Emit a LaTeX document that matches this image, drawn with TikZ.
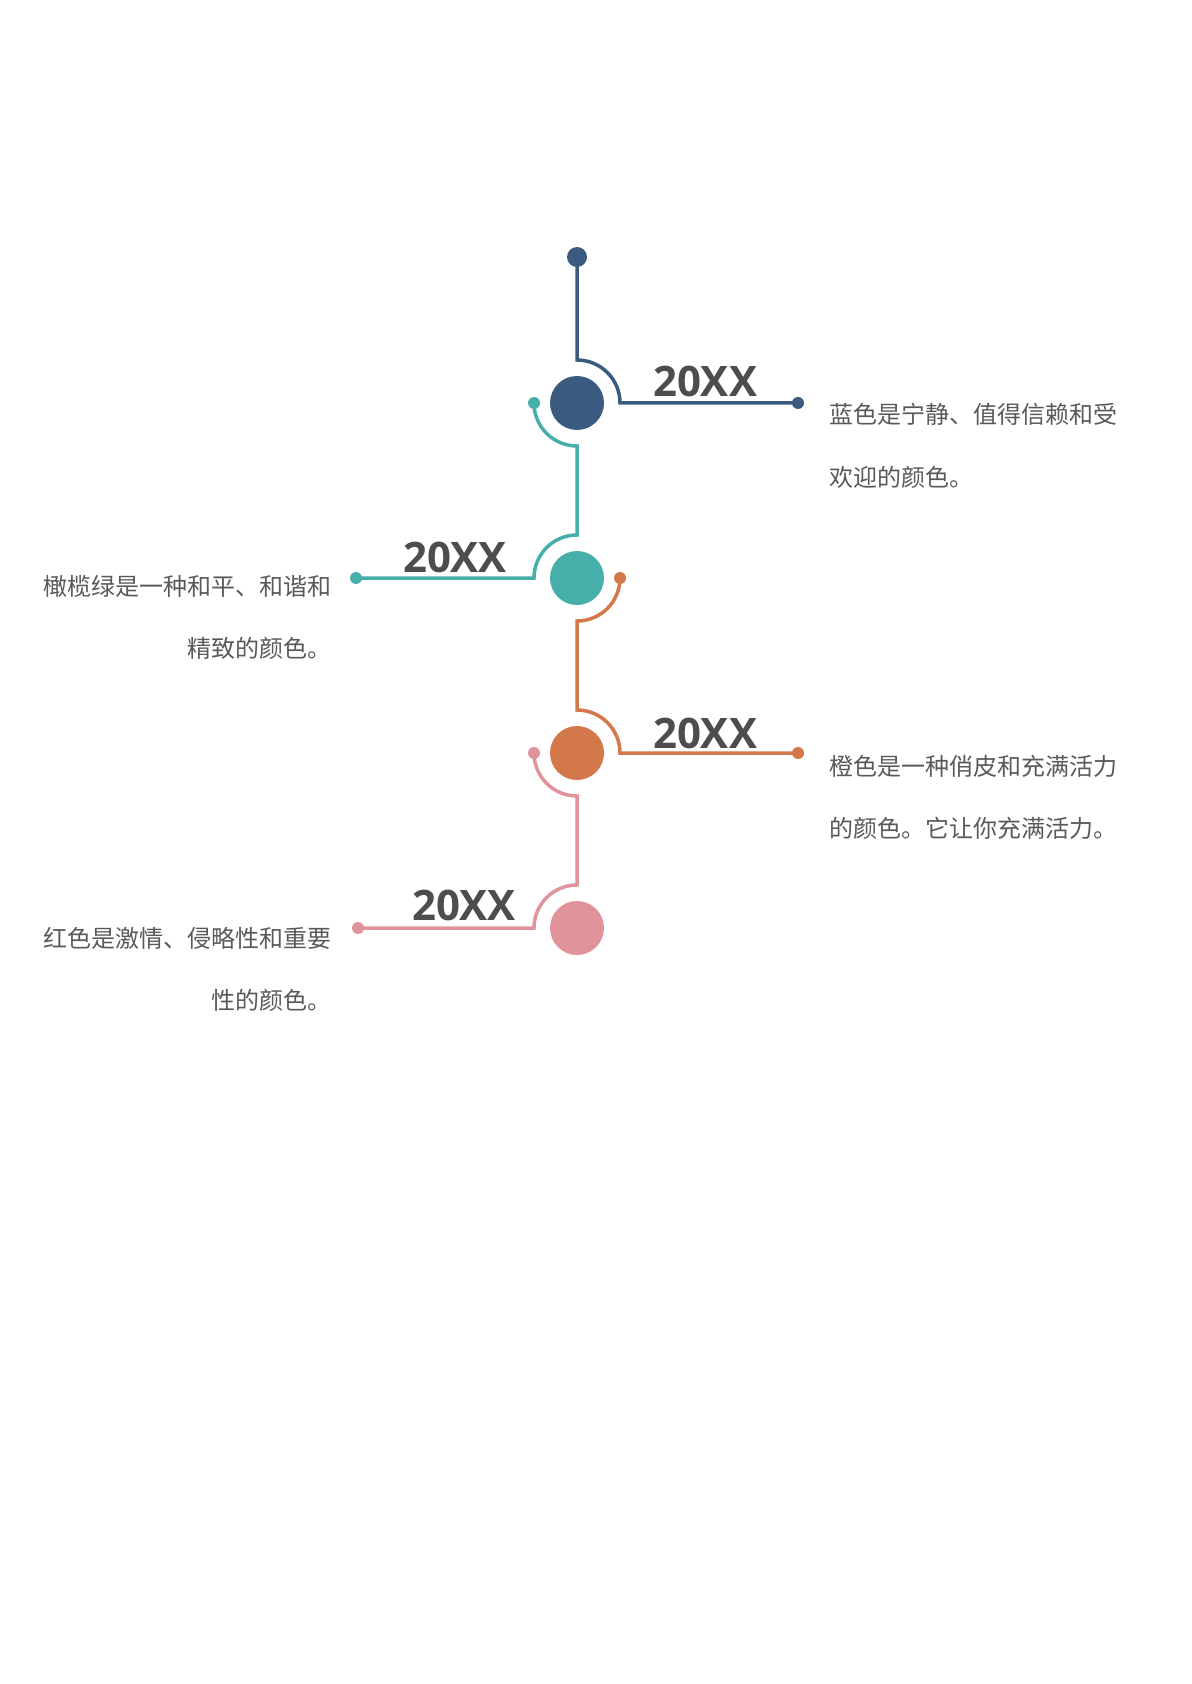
\documentclass[tikz,border=0pt]{standalone}
\usepackage{fontspec}
\setmainfont{Open Sans}
\newfontfamily\cjk{Noto Sans CJK SC}
\usetikzlibrary{positioning}
\definecolor{cblue}{HTML}{3A5A80}
\definecolor{cteal}{HTML}{46AFAA}
\definecolor{corange}{HTML}{D3784A}
\definecolor{cpink}{HTML}{E0939A}
\definecolor{ctext}{HTML}{595959}
\definecolor{cyear}{HTML}{4D4D4D}

\begin{document}
\begin{tikzpicture}[x=0.5pt,y=0.5pt,
  bigdot/.style={circle,inner sep=0pt,minimum size=27pt},
  smalldot/.style={circle,inner sep=0pt,minimum size=6pt},
  link/.style={line width=1.75pt},
  year/.style={font=\bfseries\fontsize{21}{21}\selectfont,text=cyear,inner sep=0pt,anchor=base},
  desc/.style={font=\cjk\fontsize{12}{12}\selectfont,text=ctext,inner sep=0pt}]
  \useasboundingbox (0,0) rectangle (1191,-1684);

  \node[bigdot,fill=cblue] (c1) at (577,-403) {};
  \node[bigdot,fill=cteal] (c2) at (577,-578) {};
  \node[bigdot,fill=corange] (c3) at (577,-753) {};
  \node[bigdot,fill=cpink] (c4) at (577,-928) {};

  \node[smalldot,fill=cblue,minimum size=10pt] (top) at (577,-257) {};
  \node[smalldot,fill=cblue] (e1) at (798,-403) {};
  \node[smalldot,fill=cteal] (s1) at (534,-403) {};
  \node[smalldot,fill=cteal] (e2) at (356,-578) {};
  \node[smalldot,fill=corange] (s2) at (620,-578) {};
  \node[smalldot,fill=corange] (e3) at (798,-753) {};
  \node[smalldot,fill=cpink] (s3) at (534,-753) {};
  \node[smalldot,fill=cpink] (e4) at (358,-928) {};

  \draw[link,cblue] (top.center) -- ([yshift=21.5pt]c1.center) arc[start angle=90,end angle=0,radius=21.5pt] -- (e1.center);
  \draw[link,cteal] (s1.center) arc[start angle=180,end angle=270,radius=21.5pt] -- ([yshift=21.5pt]c2.center) arc[start angle=90,end angle=180,radius=21.5pt] -- (e2.center);
  \draw[link,corange] (s2.center) arc[start angle=0,end angle=-90,radius=21.5pt] -- ([yshift=21.5pt]c3.center) arc[start angle=90,end angle=0,radius=21.5pt] -- (e3.center);
  \draw[link,cpink] (s3.center) arc[start angle=180,end angle=270,radius=21.5pt] -- ([yshift=21.5pt]c4.center) arc[start angle=90,end angle=180,radius=21.5pt] -- (e4.center);

  \node[year] (y1) at (705,-397) {20XX};
  \node[year] (y2) at (455,-572) {20XX};
  \node[year] (y3) at (705,-748) {20XX};
  \node[year] (y4) at (464,-920) {20XX};

  \node[desc,anchor=base west] (t1) at (829,-423) {蓝色是宁静、值得信赖和受};
  \node[desc,anchor=base west] (t1b) at ([yshift=-31.5pt]t1.base west) {欢迎的颜色。};
  \node[desc,anchor=base east] (t2) at (332,-595) {橄榄绿是一种和平、和谐和};
  \node[desc,anchor=base east] (t2b) at ([yshift=-31pt]t2.base east) {精致的颜色。};
  \node[desc,anchor=base west] (t3) at (829,-775) {橙色是一种俏皮和充满活力};
  \node[desc,anchor=base west] (t3b) at ([yshift=-31pt]t3.base west) {的颜色。它让你充满活力。};
  \node[desc,anchor=base east] (t4) at (332,-947) {红色是激情、侵略性和重要};
  \node[desc,anchor=base east] (t4b) at ([yshift=-31pt]t4.base east) {性的颜色。};
\end{tikzpicture}
\end{document}
